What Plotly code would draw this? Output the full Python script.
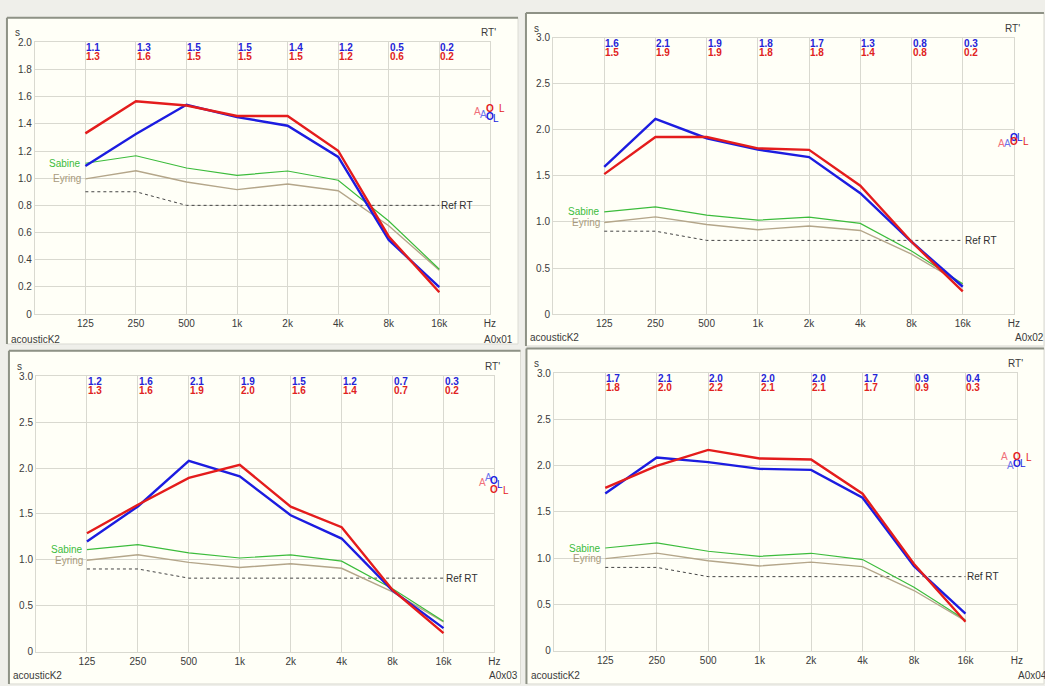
import plotly.graph_objects as go

W, H = 1045, 686

# ---------------- data ----------------
categories = ["125", "250", "500", "1k", "2k", "4k", "8k", "16k"]
x_tick_labels = categories + ["Hz"]

sabine = [1.11, 1.165, 1.075, 1.02, 1.053, 0.985, 0.685, 0.33]
eyring = [0.995, 1.055, 0.972, 0.916, 0.957, 0.908, 0.65, 0.322]
ref_rt = [0.9, 0.9, 0.8, 0.8, 0.8, 0.8, 0.8, 0.8]

p1_blue = [1.09, 1.325, 1.54, 1.45, 1.386, 1.157, 0.545, 0.198]
p1_red = [1.33, 1.566, 1.535, 1.458, 1.458, 1.202, 0.571, 0.16]
p2_blue = [1.60, 2.12, 1.91, 1.787, 1.705, 1.313, 0.785, 0.296]
p2_red = [1.52, 1.923, 1.923, 1.80, 1.784, 1.395, 0.785, 0.245]
p3_blue = [1.20, 1.582, 2.079, 1.911, 1.486, 1.232, 0.664, 0.255]
p3_red = [1.289, 1.60, 1.893, 2.036, 1.579, 1.355, 0.671, 0.20]
p4_blue = [1.70, 2.09, 2.04, 1.967, 1.956, 1.655, 0.913, 0.40]
p4_red = [1.762, 1.999, 2.172, 2.08, 2.069, 1.698, 0.937, 0.311]

p1_blue_labels = ["1.1", "1.3", "1.5", "1.5", "1.4", "1.2", "0.5", "0.2"]
p1_red_labels = ["1.3", "1.6", "1.5", "1.5", "1.5", "1.2", "0.6", "0.2"]
p2_blue_labels = ["1.6", "2.1", "1.9", "1.8", "1.7", "1.3", "0.8", "0.3"]
p2_red_labels = ["1.5", "1.9", "1.9", "1.8", "1.8", "1.4", "0.8", "0.2"]
p3_blue_labels = ["1.2", "1.6", "2.1", "1.9", "1.5", "1.2", "0.7", "0.3"]
p3_red_labels = ["1.3", "1.6", "1.9", "2.0", "1.6", "1.4", "0.7", "0.2"]
p4_blue_labels = ["1.7", "2.1", "2.0", "2.0", "2.0", "1.7", "0.9", "0.4"]
p4_red_labels = ["1.8", "2.0", "2.2", "2.1", "2.1", "1.7", "0.9", "0.3"]

# single-number markers at the right edge: A, O, L
aol_letters = ["A", "O", "L"]
p1_blue_aol = [1.472, 1.457, 1.443]
p1_red_aol = [1.494, 1.515, 1.515]
p2_blue_aol = [1.852, 1.913, 1.916]
p2_red_aol = [1.852, 1.877, 1.870]
p3_blue_aol = [1.896, 1.864, 1.821]
p3_red_aol = [1.843, 1.768, 1.757]
p4_blue_aol = [2.007, 2.024, 2.021]
p4_red_aol = [2.103, 2.103, 2.085]

y_ticks_small = [0, 0.2, 0.4, 0.6, 0.8, 1.0, 1.2, 1.4, 1.6, 1.8, 2.0]
y_ticklabels_small = ["0", "0.2", "0.4", "0.6", "0.8", "1.0", "1.2", "1.4", "1.6", "1.8", "2.0"]
y_ticks_large = [0, 0.5, 1.0, 1.5, 2.0, 2.5, 3.0]
y_ticklabels_large = ["0", "0.5", "1.0", "1.5", "2.0", "2.5", "3.0"]

panel_ids = ["A0x01", "A0x02", "A0x03", "A0x04"]
footer_text = "acousticK2"

# ---------------- styles / layout geometry (pixels) ----------------
FONT = "Liberation Sans, Arial, sans-serif"
BLUE = "#1c1ce0"
RED = "#e41c1c"
BLUE_TXT = "#2424d8"
RED_TXT = "#e02222"
GREEN = "#3cbc3c"
TAN = "#b4a68a"
GRID = "#d9d9d0"
CREAM = "#fffff7"
OUTER = "#efefea"
FRAME_DARK = "#8e9286"
TXT = "#3a3a3a"

panels = [
    dict(plot=(35.0, 492.7, 37.0, 313.5), frame=(7, 12, 521, 344), ymax=2.0,
         yt=y_ticks_small, ytl=y_ticklabels_small, blue=p1_blue, red=p1_red,
         bl=p1_blue_labels, rl=p1_red_labels, baol=p1_blue_aol, raol=p1_red_aol,
         foot_y=339.5, id_x=517.5, id_anchor="right"),
    dict(plot=(556.2, 1019.8, 32.5, 313.5), frame=(529, 7, 1050, 346), ymax=3.0,
         yt=y_ticks_large, ytl=y_ticklabels_large, blue=p2_blue, red=p2_red,
         bl=p2_blue_labels, rl=p2_red_labels, baol=p2_blue_aol, raol=p2_red_aol,
         foot_y=337.5, id_x=1018.5, id_anchor="left"),
    dict(plot=(36.2, 497.3, 377.0, 657.0), frame=(9, 351, 523.5, 690), ymax=3.0,
         yt=y_ticks_large, ytl=y_ticklabels_large, blue=p3_blue, red=p3_red,
         bl=p3_blue_labels, rl=p3_red_labels, baol=p3_blue_aol, raol=p3_red_aol,
         foot_y=681.0, id_x=522.5, id_anchor="right"),
    dict(plot=(557.0, 1022.8, 374.0, 656.0), frame=(529.5, 348.5, 1050, 690), ymax=3.0,
         yt=y_ticks_large, ytl=y_ticklabels_large, blue=p4_blue, red=p4_red,
         bl=p4_blue_labels, rl=p4_red_labels, baol=p4_blue_aol, raol=p4_red_aol,
         foot_y=681.0, id_x=1022.0, id_anchor="left"),
]


def fx(x):
    return x / W


def fy(y):
    return 1 - y / H


xs = list(range(1, len(categories) + 1))
fig = go.Figure()
shapes = []
annotations = []
layout_axes = {}

for i, p in enumerate(panels):
    n = i + 1
    xa = "x" if n == 1 else f"x{n}"
    ya = "y" if n == 1 else f"y{n}"
    x0, x1, ytop, ybot = p["plot"]
    fx0, fy0, fx1, fy1 = p["frame"]

    # frame
    shapes.append(dict(type="rect", xref="paper", yref="paper", x0=fx(fx0), x1=fx(fx1),
                       y0=fy(fy1), y1=fy(fy0), fillcolor=CREAM,
                       line=dict(color="#dcdcd4", width=1), layer="below"))
    shapes.append(dict(type="line", xref="paper", yref="paper", x0=fx(fx0), x1=fx(fx1),
                       y0=fy(fy0), y1=fy(fy0), line=dict(color=FRAME_DARK, width=2), layer="below"))
    shapes.append(dict(type="line", xref="paper", yref="paper", x0=fx(fx0), x1=fx(fx0),
                       y0=fy(fy0), y1=fy(fy1), line=dict(color=FRAME_DARK, width=2), layer="below"))

    # traces
    fig.add_trace(go.Scatter(x=xs, y=ref_rt, mode="lines", xaxis=xa, yaxis=ya,
                             line=dict(color="#444444", width=1, dash="dot"), hoverinfo="skip"))
    fig.add_trace(go.Scatter(x=xs, y=eyring, mode="lines", xaxis=xa, yaxis=ya,
                             line=dict(color=TAN, width=1.4), hoverinfo="skip"))
    fig.add_trace(go.Scatter(x=xs, y=sabine, mode="lines", xaxis=xa, yaxis=ya,
                             line=dict(color=GREEN, width=1.2), hoverinfo="skip"))
    fig.add_trace(go.Scatter(x=xs, y=p["blue"], mode="lines", xaxis=xa, yaxis=ya,
                             line=dict(color=BLUE, width=2.4), hoverinfo="skip"))
    fig.add_trace(go.Scatter(x=xs, y=p["red"], mode="lines", xaxis=xa, yaxis=ya,
                             line=dict(color=RED, width=2.4), hoverinfo="skip"))

    axis_common = dict(showgrid=True, gridcolor=GRID, gridwidth=1, showline=True, mirror=True,
                       linecolor=GRID, linewidth=1, zeroline=False, ticks="", fixedrange=True,
                       tickfont=dict(family=FONT, size=10, color=TXT))
    layout_axes["xaxis" if n == 1 else f"xaxis{n}"] = dict(
        domain=[fx(x0), fx(x1)], anchor=ya, range=[0, len(x_tick_labels)],
        tickmode="array", tickvals=list(range(1, len(x_tick_labels) + 1)),
        ticktext=x_tick_labels, **axis_common)
    layout_axes["yaxis" if n == 1 else f"yaxis{n}"] = dict(
        domain=[fy(ybot), fy(ytop)], anchor=xa, range=[0, p["ymax"]],
        tickmode="array", tickvals=p["yt"], ticktext=p["ytl"], **axis_common)

    # value labels at top
    for k in range(len(categories)):
        annotations.append(dict(xref=xa, x=xs[k], yref="paper", y=fy(ytop + 5.6), text=p["bl"][k],
                                showarrow=False, xanchor="left", yanchor="middle", xshift=0,
                                borderpad=0,
                                font=dict(family=FONT, size=10, color=BLUE_TXT, weight="bold")))
        annotations.append(dict(xref=xa, x=xs[k], yref="paper", y=fy(ytop + 14.8), text=p["rl"][k],
                                showarrow=False, xanchor="left", yanchor="middle", xshift=0,
                                borderpad=0,
                                font=dict(family=FONT, size=10, color=RED_TXT, weight="bold")))

    # curve labels
    annotations.append(dict(xref=xa, x=xs[0], yref=ya, y=sabine[0], text="Sabine", showarrow=False,
                            xanchor="right", yanchor="middle", xshift=-2,
                            font=dict(family=FONT, size=10, color=GREEN)))
    annotations.append(dict(xref=xa, x=xs[0], yref=ya, y=eyring[0], text="Eyring", showarrow=False,
                            xanchor="right", yanchor="middle", xshift=-2,
                            font=dict(family=FONT, size=10, color="#a89a7c")))
    annotations.append(dict(xref=xa, x=xs[-1], yref=ya, y=ref_rt[-1], text="Ref RT", showarrow=False,
                            xanchor="left", yanchor="middle", xshift=0,
                            font=dict(family=FONT, size=10, color="#303030")))

    # A / O / L markers at right edge
    hz = len(x_tick_labels)
    offs_blue = [-6, 0, 6]
    offs_red = [-12, 0, 12]
    blue_cols = ["#6a74ee", BLUE, BLUE]
    red_cols = ["#f0707a", RED, RED]
    for j, letter in enumerate(aol_letters):
        annotations.append(dict(xref=xa, x=hz, yref=ya, y=p["baol"][j], text=letter, showarrow=False,
                                xanchor="center", yanchor="middle", xshift=offs_blue[j], borderpad=0,
                                font=dict(family=FONT, size=10, color=blue_cols[j],
                                          weight="bold" if letter == "O" else "normal")))
        annotations.append(dict(xref=xa, x=hz, yref=ya, y=p["raol"][j], text=letter, showarrow=False,
                                xanchor="center", yanchor="middle", xshift=offs_red[j], borderpad=0,
                                font=dict(family=FONT, size=10, color=red_cols[j],
                                          weight="bold" if letter == "O" else "normal")))

    # corner texts
    annotations.append(dict(xref="paper", x=fx(x0 - 17), yref="paper", y=fy(ytop - 10), text="s",
                            showarrow=False, xanchor="center", yanchor="middle",
                            font=dict(family=FONT, size=10, color=TXT)))
    annotations.append(dict(xref="paper", x=fx(x1 - 1.5), yref="paper", y=fy(ytop - 10), text="RT'",
                            showarrow=False, xanchor="center", yanchor="middle",
                            font=dict(family=FONT, size=10, color=TXT)))
    annotations.append(dict(xref="paper", x=fx(fx0 + 2.5), yref="paper", y=fy(p["foot_y"]),
                            text=footer_text, showarrow=False, xanchor="left", yanchor="middle",
                            font=dict(family=FONT, size=10, color=TXT)))
    annotations.append(dict(xref="paper", x=fx(p["id_x"]), yref="paper", y=fy(p["foot_y"]),
                            text=panel_ids[i], showarrow=False, xanchor=p["id_anchor"],
                            yanchor="middle", font=dict(family=FONT, size=10, color=TXT)))

fig.update_layout(
    width=W, height=H, autosize=False,
    margin=dict(l=0, r=0, t=0, b=0, pad=0),
    paper_bgcolor=OUTER, plot_bgcolor=CREAM,
    showlegend=False, shapes=shapes, annotations=annotations,
    font=dict(family=FONT, size=10, color=TXT),
    **layout_axes,
)

fig.write_html("out.html", config={"displayModeBar": False},
               post_script="document.body.style.margin='0px';document.body.style.overflow='hidden';")
